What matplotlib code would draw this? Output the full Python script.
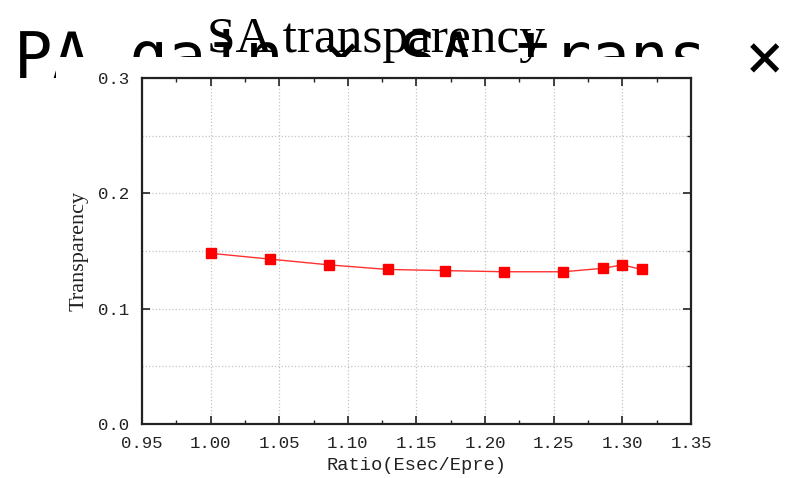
import numpy as np
import matplotlib
matplotlib.use('Agg')
import matplotlib.pyplot as plt
from matplotlib.patches import Rectangle
from matplotlib.ticker import MultipleLocator


# Energy ratio of the second pulse to the first and the measured transparency

ratio = [1.000, 1.043, 1.086, 1.129, 1.171, 1.214, 1.257, 1.286, 1.300, 1.314]
transparency = [0.148, 0.143, 0.138, 0.134, 0.133, 0.132, 0.132, 0.135, 0.138, 0.134]

x_ticks = [0.95, 1.00, 1.05, 1.10, 1.15, 1.20, 1.25, 1.30, 1.35]
y_ticks = [0.0, 0.1, 0.2, 0.3]

W, H = 788, 478

fig = plt.figure(figsize=(W / 100, H / 100), dpi=100)

# heading text sits behind the chart panel
fig.text(14 / W, 1 - 78 / H, 'PA gain × SA trans ×', fontsize=46,
         family='DejaVu Sans Mono', va='baseline', ha='left', zorder=0.5)

# white panel the chart is drawn on
fig.add_artist(Rectangle((56 / W, 0), (735 - 56) / W, (H - 57) / H,
                         transform=fig.transFigure, facecolor='white',
                         edgecolor='none', zorder=1))

ax = fig.add_axes([142 / W, (H - 424) / H, (691 - 142) / W, (424 - 78) / H], zorder=2)

ax.plot(ratio, transparency, color='#ff3030', lw=1.0, marker='s', ms=7.5,
        mfc='#ff0000', mec='#ff0000', zorder=3)

ax.set_xlim(0.95, 1.35)
ax.set_ylim(0.0, 0.3)
ax.set_xticks(x_ticks)
ax.set_yticks(y_ticks)
ax.set_xticklabels(['%.2f' % v for v in x_ticks])
ax.set_yticklabels(['%.1f' % v for v in y_ticks])
ax.xaxis.set_minor_locator(MultipleLocator(0.025))
ax.yaxis.set_minor_locator(MultipleLocator(0.05))

ax.tick_params(which='major', direction='in', length=6, width=1.2,
               top=True, right=True, pad=9, colors='#222222')
ax.tick_params(which='minor', direction='in', length=3, width=1.0,
               top=True, bottom=True, left=False, right=True, colors='#222222')
for lab in ax.get_xticklabels() + ax.get_yticklabels():
    lab.set_family('Liberation Mono')
    lab.set_fontsize(12.5)

ax.grid(which='major', axis='x', ls=':', color='#c4c4c4', lw=0.9)
ax.grid(which='both', axis='y', ls=':', color='#c4c4c4', lw=0.9)
ax.set_axisbelow(True)

for sp in ax.spines.values():
    sp.set_linewidth(1.6)
    sp.set_color('#222222')

ax.set_xlabel('Ratio(Esec/Epre)', family='Liberation Mono', fontsize=13.5,
              color='#222222', labelpad=4)
ax.set_ylabel('Transparency', family='Liberation Serif', fontsize=16,
              color='#222222', labelpad=7)

fig.text(376 / W, 1 - 52 / H, 'SA transparency', fontsize=37,
         family='Liberation Serif', ha='center', va='baseline', zorder=3)

fig.savefig('out.png', dpi=100)
